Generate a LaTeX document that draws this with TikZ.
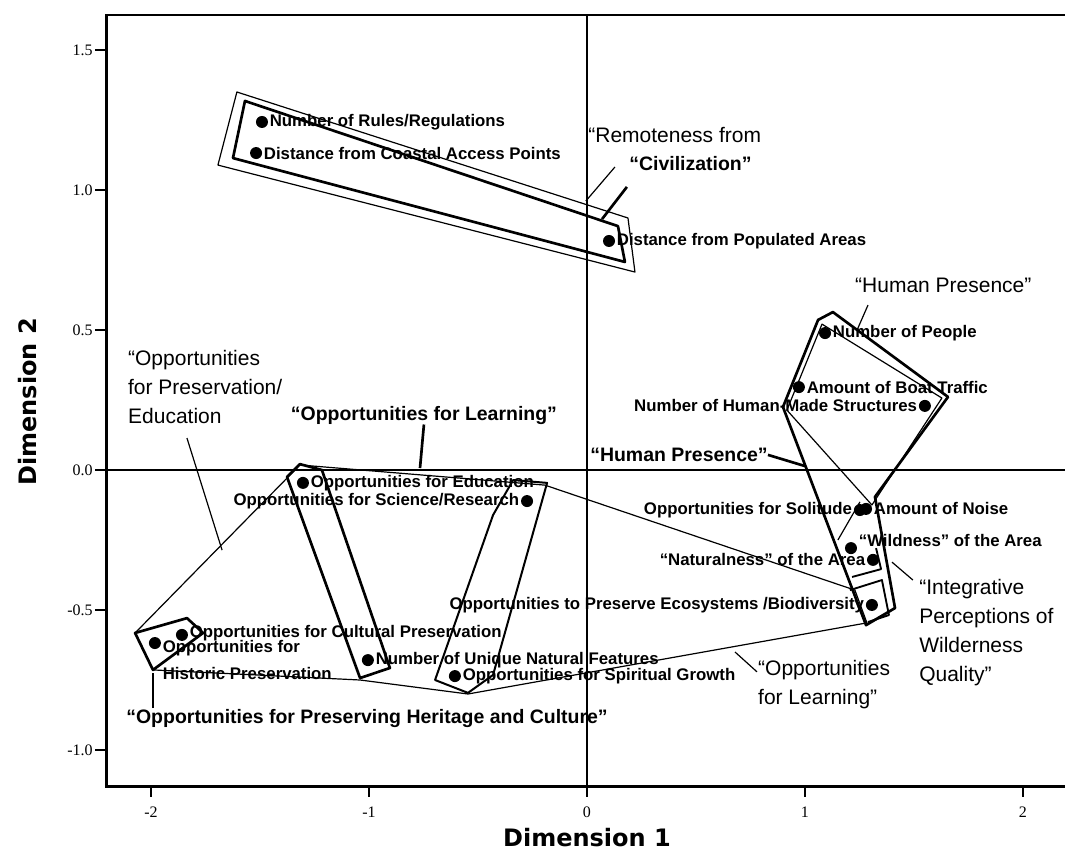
\documentclass[tikz,border=0pt]{standalone}
\usepackage{fontspec}
\setmainfont{Liberation Sans}
\newfontfamily\ticksfont{Liberation Serif}
\newfontfamily\dimfont{DejaVu Sans}
\usetikzlibrary{positioning}
\tikzset{%
  point/.style={circle, fill=black, inner sep=0pt, minimum size=9pt},
  item/.style={font=\bfseries\fontsize{12.6}{20}\selectfont, inner sep=1pt},
  remark/.style={font=\fontsize{15.75}{21.75}\selectfont, align=left, inner sep=0pt},
  bold remark/.style={font=\bfseries\fontsize{14.6}{18}\selectfont, inner sep=0pt},
  hull/.style={line width=2pt, line join=round},
  thin hull/.style={line width=0.9pt, line join=round},
  leader/.style={line width=0.9pt},
  thick leader/.style={line width=2pt}
}

\begin{document}
\begin{tikzpicture}[x=163.5pt, y=210pt]
    % \draw[help lines, gray] (-2, -1) grid (2, 1.5);
    \useasboundingbox (-2.6927,-1.3964) rectangle (2.1927,1.6786);

    % frame, axes, ticks
    \draw[line width=2.2pt] (2.1927,1.625) -- (-2.206,1.625) -- (-2.206,-1.132) -- (2.1927,-1.132);
    \draw[line width=1.5pt] (0,1.625) -- (0,-1.132);
    \draw[line width=1.5pt] (-2.206,0) -- (2.1927,0);
    \foreach \y/\t [count=\i] in {1.5/1.5, 1/1.0, 0.5/0.5, 0/0.0, -0.5/-0.5, -1/-1.0} {
      \draw[line width=1.5pt] (-2.256,\y) -- (-2.206,\y);
      \node[font=\ticksfont\fontsize{12}{12}\selectfont, anchor=east, inner sep=0pt] (ytick\i) at (-2.266,\y) {\t};
    }
    \foreach \x [count=\i] in {-2,-1,0,1,2} {
      \draw[line width=1.5pt] (\x,-1.132) -- (\x,-1.168);
      \node[font=\ticksfont\fontsize{12}{12}\selectfont, inner sep=0pt] (xtick\i) at (\x,-1.221) {\x};
    }
    \node[font=\dimfont\bfseries\fontsize{18}{18}\selectfont] (dimA) at (0,-1.314) {Dimension 1};
    \node[font=\dimfont\bfseries\fontsize{18}{18}\selectfont, rotate=90] (dimB) at (-2.564,0.243) {Dimension 2};

    % hulls
    \draw[thin hull] (-1.606,1.350) -- (-1.693,1.089) -- (0.220,0.707) -- (0.188,0.900) -- cycle;
    \draw[hull] (-1.569,1.318) -- (-1.624,1.114) -- (0.174,0.743) -- (0.142,0.871) -- cycle;

    \draw[hull] (1.060,0.536) -- (1.128,0.564) -- (1.656,0.261) -- (1.321,-0.096) -- (1.413,-0.493) -- (1.280,-0.554) -- (0.899,0.225) -- cycle;
    \draw[thin hull] (1.078,0.521) -- (1.628,0.257) -- (1.307,-0.125) -- (0.917,0.214) -- cycle;
    \draw[thin hull] (1.151,-0.25) -- (1.252,-0.114);
    \draw[thin hull, line width=1.4pt] (1.216,-0.382) -- (1.349,-0.354) -- (1.326,-0.279);
    \draw[thin hull, line width=1.4pt] (1.206,-0.429) -- (1.353,-0.393) -- (1.385,-0.518) -- (1.289,-0.543);

    \draw[thin hull] (-2.073,-0.582) -- (-1.317,0.018) -- (-0.193,-0.054) -- (1.229,-0.429) -- (1.284,-0.546) -- (-0.546,-0.8) -- (-1.041,-0.75) -- (-1.991,-0.714) -- cycle;
    \draw[hull] (-1.376,-0.025) -- (-1.317,0.021) -- (-1.216,0) -- (-0.904,-0.707) -- (-1.041,-0.743) -- cycle;
    \draw[hull, line width=1.5pt] (-0.339,-0.036) -- (-0.183,-0.046) -- (-0.431,-0.732) -- (-0.546,-0.796) -- (-0.697,-0.75) -- (-0.431,-0.161) -- cycle;
    \draw[hull] (-2.073,-0.582) -- (-1.835,-0.529) -- (-1.761,-0.582) -- (-1.991,-0.714) -- cycle;

    % points
    \node[point] (rules) at (-1.491,1.243) {};
    \node[item, right=0pt of rules] (rulesL) {Number of Rules/Regulations};
    \node[point] (coastal) at (-1.518,1.132) {};
    \node[item, right=0pt of coastal] (coastalL) {Distance from Coastal Access Points};
    \node[point] (populated) at (0.101,0.818) {};
    \node[item, right=0pt of populated] (populatedL) {Distance from Populated Areas};

    \node[point] (people) at (1.092,0.489) {};
    \node[item, right=0pt of people] (peopleL) {Number of People};
    \node[point] (boat) at (0.972,0.296) {};
    \node[item, right=0pt of boat] (boatL) {Amount of Boat Traffic};
    \node[point] (structures) at (1.550,0.229) {};
    \node[item, left=0pt of structures] (structuresL) {Number of Human-Made Structures};
    \node[point] (solitude) at (1.252,-0.143) {};
    \node[item, left=0pt of solitude] (solitudeL) {Opportunities for Solitude};
    \node[point] (noise) at (1.280,-0.139) {};
    \node[item, right=0pt of noise] (noiseL) {Amount of Noise};
    \node[point] (wildness) at (1.211,-0.279) {};
    \node[item, right=0pt of wildness, yshift=6pt] (wildnessL) {“Wildness” of the Area};
    \node[point] (naturalness) at (1.312,-0.321) {};
    \node[item, left=0pt of naturalness] (naturalnessL) {“Naturalness” of the Area};
    \node[point] (biodiversity) at (1.307,-0.482) {};
    \node[item, left=0pt of biodiversity] (biodiversityL) {Opportunities to Preserve Ecosystems /Biodiversity};

    \node[point] (education) at (-1.303,-0.046) {};
    \node[item, right=0pt of education] (educationL) {Opportunities for Education};
    \node[point] (science) at (-0.275,-0.111) {};
    \node[item, left=0pt of science] (scienceL) {Opportunities for Science/Research};
    \node[point] (unique) at (-1.005,-0.679) {};
    \node[item, right=0pt of unique] (uniqueL) {Number of Unique Natural Features};
    \node[point] (spiritual) at (-0.606,-0.736) {};
    \node[item, right=0pt of spiritual] (spiritualL) {Opportunities for Spiritual Growth};
    \node[point] (cultural) at (-1.858,-0.589) {};
    \node[item, right=0pt of cultural, yshift=1.5pt] (culturalL) {Opportunities for Cultural Preservation};
    \node[point] (historic) at (-1.982,-0.618) {};
    \node[item, align=left, anchor=north west] (historicL) at ([yshift=3pt]historic.east) {Opportunities for\\Historic Preservation};

    % group names
    \node[remark, anchor=west] (remote) at (0.005,1.196) {“Remoteness from};
    \node[bold remark, anchor=west] (civil) at (0.193,1.096) {“Civilization”};
    \node[remark, anchor=west] (hpTop) at (1.229,0.661) {“Human Presence”};
    \node[remark, anchor=north west] (prEd) at (-2.106,0.429) {“Opportunities\\for Preservation/\\Education};
    \node[bold remark] (learnB) at (-0.748,0.196) {“Opportunities for Learning”};
    \node[bold remark] (hpB) at (0.422,0.054) {“Human Presence”};
    \node[remark, anchor=north west] (integ) at (1.523,-0.389) {“Integrative\\Perceptions of\\Wilderness\\Quality”};
    \node[remark, anchor=north west] (learnR) at (0.784,-0.679) {“Opportunities\\for Learning”};
    \node[bold remark] (heritage) at (-1.009,-0.886) {“Opportunities for Preserving Heritage and Culture”};

    % leaders
    \coordinate (remFrom) at (0.128,1.082);
    \coordinate (remTo) at (-0.005,0.961);
    \coordinate (civFrom) at (0.183,1.011);
    \coordinate (civTo) at (0.069,0.896);
    \coordinate (hpFrom) at (1.289,0.589);
    \coordinate (hpTo) at (1.239,0.5);
    \coordinate (hpbTo) at (1.0,0.014);
    \coordinate (prFrom) at (-1.835,0.114);
    \coordinate (prTo) at (-1.674,-0.286);
    \coordinate (learnTo) at (-0.766,0.007);
    \coordinate (herFrom) at (-1.991,-0.85);
    \coordinate (herTo) at (-1.991,-0.725);
    \coordinate (lrFrom) at (0.780,-0.721);
    \coordinate (lrTo) at (0.679,-0.65);
    \coordinate (intFrom) at (1.495,-0.393);
    \coordinate (intTo) at (1.399,-0.329);

    \draw[leader] (remFrom) -- (remTo);
    \draw[thick leader] (civFrom) -- (civTo);
    \draw[leader] (hpFrom) -- (hpTo);
    \draw[thick leader] (hpB.east) -- (hpbTo);
    \draw[leader] (prFrom) -- (prTo);
    \draw[thick leader] (learnB.south) -- (learnTo);
    \draw[thick leader] (herFrom) -- (herTo);
    \draw[leader] (lrFrom) -- (lrTo);
    \draw[leader] (intFrom) -- (intTo);
\end{tikzpicture}
\end{document}
